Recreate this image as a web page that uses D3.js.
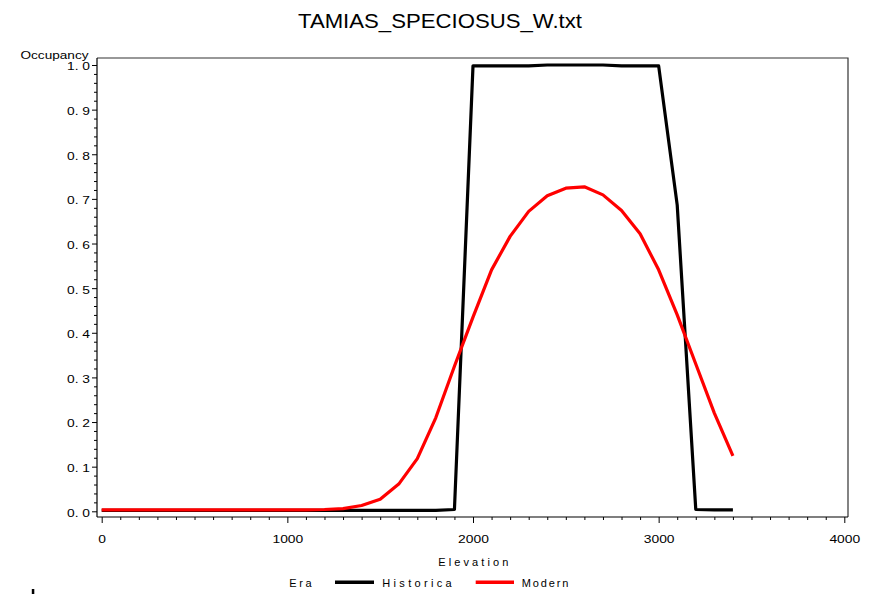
<!DOCTYPE html>
<html>
<head>
<meta charset="utf-8">
<script src="https://cdn.jsdelivr.net/npm/d3@7"></script>
<style>
  html, body { margin: 0; padding: 0; background: #fff; }
  svg { display: block; font-family: "Liberation Sans", Arial, sans-serif; }
</style>
</head>
<body>
<svg id="chart" width="875" height="594"></svg>
<script>
// Occupancy by elevation for two eras
const elevation = [0, 100, 200, 300, 400, 500, 600, 700, 800, 900, 1000, 1100, 1200, 1300, 1400, 1500, 1600,
  1700, 1800, 1900, 2000, 2100, 2200, 2300, 2400, 2500, 2600, 2700, 2800, 2900, 3000, 3100, 3200, 3300, 3400];
const historica = [0.002, 0.002, 0.002, 0.002, 0.002, 0.002, 0.002, 0.002, 0.002, 0.002, 0.002, 0.002, 0.002,
  0.002, 0.002, 0.002, 0.002, 0.002, 0.002, 0.004, 0.998, 0.998, 0.998, 0.998, 1.0, 1.0, 1.0, 1.0, 0.998,
  0.998, 0.998, 0.686, 0.004, 0.003, 0.003];
const modern = [0.003, 0.003, 0.003, 0.003, 0.003, 0.003, 0.003, 0.003, 0.003, 0.003, 0.003, 0.003, 0.004,
  0.006, 0.013, 0.027, 0.061, 0.118, 0.21, 0.325, 0.435, 0.541, 0.616, 0.672, 0.707, 0.724, 0.727, 0.709,
  0.674, 0.622, 0.541, 0.44, 0.33, 0.22, 0.124];
const xTicks = [0, 1000, 2000, 3000, 4000];
const yTicks = [0, 0.1, 0.2, 0.3, 0.4, 0.5, 0.6, 0.7, 0.8, 0.9, 1.0];
const seriesNames = ["Historica", "Modern"];
const seriesColors = ["#000000", "#ff0000"];

const svg = d3.select("#chart");

const frame = { left: 97, right: 848, top: 58, bottom: 517 };
const x = d3.scaleLinear().domain([0, 4000]).range([101.7, 844.3]);
const y = d3.scaleLinear().domain([0, 1]).range([511.3, 65]);

// Title
svg.append("text")
  .attr("x", 440).attr("y", 28)
  .attr("text-anchor", "middle")
  .attr("font-size", 21)
  .attr("textLength", 284).attr("lengthAdjust", "spacingAndGlyphs")
  .text("TAMIAS_SPECIOSUS_W.txt");

// Plot frame (top and right edges)
svg.append("path")
  .attr("d", `M${frame.left},${frame.top}H${frame.right}V${frame.bottom}`)
  .attr("fill", "none").attr("stroke", "#333").attr("stroke-width", 1.2);

// X axis: minor then major ticks
const xMinor = d3.range(0, 4001, 100).filter(v => v % 1000 !== 0);
const gxMinor = svg.append("g").attr("transform", `translate(0,${frame.bottom})`)
  .call(d3.axisBottom(x).tickValues(xMinor).tickSize(3).tickSizeOuter(0).tickFormat(""));
gxMinor.select(".domain").remove();
const gx = svg.append("g").attr("transform", `translate(0,${frame.bottom})`)
  .call(d3.axisBottom(x).tickValues(xTicks).tickSize(6).tickSizeOuter(0).tickFormat(d3.format("d")));
gx.select(".domain").remove();
gx.selectAll(".tick text")
  .attr("y", 22).attr("dy", "0.32em")
  .attr("font-size", 11).attr("font-family", "Liberation Sans, Arial, sans-serif")
  .attr("fill", "#000")
  .attr("textLength", d => String(d).length * 7.7).attr("lengthAdjust", "spacingAndGlyphs");
svg.selectAll("g.tick line").attr("stroke", "#000");
svg.append("line")
  .attr("x1", frame.left).attr("x2", frame.right)
  .attr("y1", frame.bottom).attr("y2", frame.bottom)
  .attr("stroke", "#000").attr("stroke-width", 1.2);

// Y axis: minor then major ticks
const yMinor = d3.range(0, 51).map(i => i / 50).filter((v, i) => i % 5 !== 0);
const gyMinor = svg.append("g").attr("transform", `translate(${frame.left},0)`)
  .call(d3.axisLeft(y).tickValues(yMinor).tickSize(3).tickSizeOuter(0).tickFormat(""));
gyMinor.select(".domain").remove();
const gy = svg.append("g").attr("transform", `translate(${frame.left},0)`)
  .call(d3.axisLeft(y).tickValues(yTicks).tickSize(5).tickSizeOuter(0)
    .tickFormat(d => d3.format(".1f")(d).replace(".", ". ")));
gy.select(".domain").remove();
gy.selectAll(".tick text")
  .attr("x", -7).attr("dy", "0.45em")
  .attr("font-size", 11).attr("font-family", "Liberation Sans, Arial, sans-serif")
  .attr("fill", "#000")
  .attr("textLength", 23).attr("lengthAdjust", "spacingAndGlyphs");
svg.selectAll("g.tick line").attr("stroke", "#000");
svg.append("line")
  .attr("x1", frame.left).attr("x2", frame.left)
  .attr("y1", frame.top).attr("y2", frame.bottom)
  .attr("stroke", "#000").attr("stroke-width", 1.2);

// Axis titles
svg.append("text")
  .attr("x", 20.5).attr("y", 58.5)
  .attr("font-size", 11)
  .attr("textLength", 68).attr("lengthAdjust", "spacingAndGlyphs")
  .text("Occupancy");
svg.append("text")
  .attr("x", 438.3).attr("y", 565.5)
  .attr("font-size", 11)
  .attr("textLength", 70).attr("lengthAdjust", "spacing")
  .text("Elevation");

// Series lines
const line = d3.line().x((d, i) => x(elevation[i])).y(d => y(d));
[historica, modern].forEach((vals, k) => {
  svg.append("path")
    .datum(vals)
    .attr("d", line)
    .attr("fill", "none")
    .attr("stroke", seriesColors[k])
    .attr("stroke-width", 3.2)
    .attr("stroke-linejoin", "round");
});

// Legend
const legendY = 582.3;
svg.append("text")
  .attr("x", 289.3).attr("y", legendY + 5)
  .attr("font-size", 11)
  .attr("textLength", 22.4).attr("lengthAdjust", "spacing")
  .text("Era");
const legendItems = [
  { x1: 335, x2: 374, tx: 382.3, tw: 69.4 },
  { x1: 475.7, x2: 514, tx: 521.7, tw: 46.6 }
];
legendItems.forEach((it, k) => {
  svg.append("line")
    .attr("x1", it.x1).attr("x2", it.x2)
    .attr("y1", legendY).attr("y2", legendY)
    .attr("stroke", seriesColors[k]).attr("stroke-width", 3.5);
  svg.append("text")
    .attr("x", it.tx).attr("y", legendY + 5)
    .attr("font-size", 11)
    .attr("textLength", it.tw).attr("lengthAdjust", "spacing")
    .text(seriesNames[k]);
});

// Small mark at the lower-left corner
svg.append("rect")
  .attr("x", 31.8).attr("y", 589).attr("width", 2.5).attr("height", 5)
  .attr("fill", "#000");
</script>
</body>
</html>
